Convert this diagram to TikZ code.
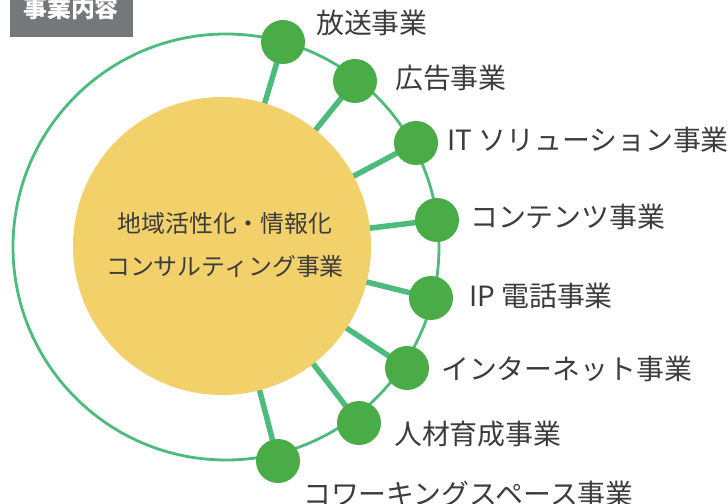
\documentclass[tikz,border=0pt]{standalone}
\usepackage{fontspec}
\setmainfont{Noto Sans CJK JP}
\definecolor{ring}{HTML}{4CBB7C}
\definecolor{dot}{HTML}{49AC47}
\definecolor{sun}{HTML}{F2D16B}
\definecolor{boxgray}{HTML}{76777B}
\definecolor{txt}{HTML}{3C3C3C}
\begin{document}
\begin{tikzpicture}[x=1bp,y=-1bp,
  ringline/.style={draw=ring, line width=2.8bp},
  spoke/.style={draw=ring, line width=5.5bp},
  dotc/.style={circle, fill=dot, minimum size=44bp, inner sep=0pt},
  lbl/.style={anchor=west, inner sep=0pt, text=txt, font=\fontsize{28}{30}\selectfont},
  centertext/.style={align=center, inner sep=0pt, text=txt, font=\fontsize{24}{44}\selectfont},
  tag/.style={fill=boxgray, inner sep=0pt},
  tagtext/.style={text=white, inner sep=0pt, font=\fontsize{24}{26}\selectfont\bfseries}]
\useasboundingbox (0,0) rectangle (728,504);
\clip (0,0) rectangle (728,504);
% title tag
\path[tag] (10,-5) rectangle (133,37);
\node[tagtext] (title) at (71,8) {事業内容};
% outer ring
\coordinate (rc) at (226,247);
\draw[ringline] (rc) circle[radius=213bp];
% positions
\coordinate (c) at (222,246);
\coordinate (p1) at (283,42);
\coordinate (p2) at (355,81);
\coordinate (p3) at (416,143);
\coordinate (p4) at (437,220);
\coordinate (p5) at (431,298);
\coordinate (p6) at (407,368);
\coordinate (p7) at (359,423);
\coordinate (p8) at (278,461);
% spokes
\foreach \i in {1,...,8} { \draw[spoke] (c) -- (p\i); }
% center circle
\node[circle, fill=sun, minimum size=298bp, inner sep=0pt] (core) at (c) {};
\node[centertext] (coretext) at (225,245) {地域活性化・情報化\\コンサルティング事業};
% dots
\node[dotc] (d1) at (p1) {};
\node[dotc] (d2) at (p2) {};
\node[dotc] (d3) at (p3) {};
\node[dotc] (d4) at (p4) {};
\node[dotc] (d5) at (p5) {};
\node[dotc] (d6) at (p6) {};
\node[dotc] (d7) at (p7) {};
\node[dotc] (d8) at (p8) {};
% labels
\node[lbl] (l1) at (316,23) {放送事業};
\node[lbl] (l2) at (395,78) {広告事業};
\node[lbl] (l3) at (447,140) {IT ソリューション事業};
\node[lbl] (l4) at (470,217) {コンテンツ事業};
\node[lbl] (l5) at (469,296) {IP 電話事業};
\node[lbl] (l6) at (441,369) {インターネット事業};
\node[lbl] (l7) at (394,434) {人材育成事業};
\node[lbl] (l8) at (303,494) {コワーキングスペース事業};
\end{tikzpicture}
\end{document}
